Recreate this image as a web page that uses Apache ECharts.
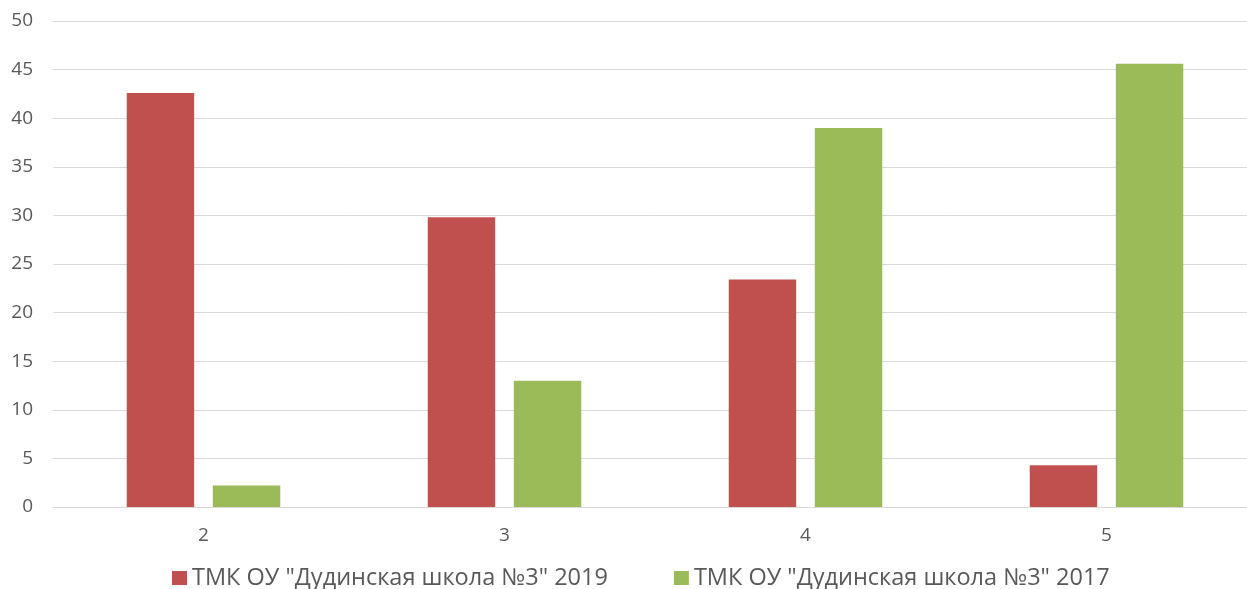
<!DOCTYPE html>
<html>
<head>
<meta charset="utf-8">
<script src="https://cdn.jsdelivr.net/npm/echarts@6/dist/echarts.min.js"></script>
<style>
    html, body {margin: 0; padding: 0; background: #fff;}
    #chart {width: 1247px; height: 589px;}
</style>
</head>
<body>
<div id="chart"></div>
<script>
    // оценки (баллы) по оси X
    var categories = ['2', '3', '4', '5'];
    var seriesNames = ['ТМК ОУ "Дудинская школа №3" 2019', 'ТМК ОУ "Дудинская школа №3" 2017'];
    var values2019 = [42.6, 29.8, 23.4, 4.3];
    var values2017 = [2.2, 13.0, 39.0, 45.6];

    var chart = echarts.init(document.getElementById('chart'));//график
    var option = {
        animation: false,
        textStyle: {fontFamily: 'Open Sans, sans-serif'},
        // область построения чуть шире окна, как в исходнике
        grid: {left: 53, top: 21, width: 1204, bottom: 82, outerBoundsMode: 'none'},
        legend: {
            top: 561,
            left: 167,
            itemWidth: 15,
            itemHeight: 14,
            itemGap: 66,
            icon: 'rect',
            textStyle: {color: '#595959', fontSize: 23.5},
            data: seriesNames
        },
        xAxis: {
            type: 'category',
            data: categories,
            axisLine: {lineStyle: {color: '#d9d9d9'}},
            axisTick: {show: false},
            axisLabel: {color: '#595959', fontSize: 19, margin: 19}
        },
        yAxis: {
            type: 'value',
            min: 0,
            max: 50,
            interval: 5,
            axisLine: {show: false},
            axisTick: {show: false},
            splitLine: {lineStyle: {color: '#d9d9d9'}},
            axisLabel: {color: '#595959', fontSize: 19, margin: 20}
        },
        series: [{
            name: seriesNames[0],
            type: 'bar',
            data: values2019,
            barGap: '27.6%',
            barCategoryGap: '49%',
            itemStyle: {color: '#C0504D'}
        }, {
            name: seriesNames[1],
            type: 'bar',
            data: values2017,
            itemStyle: {color: '#9BBB59'}
        }]
    };
    chart.setOption(option);
</script>
</body>
</html>
